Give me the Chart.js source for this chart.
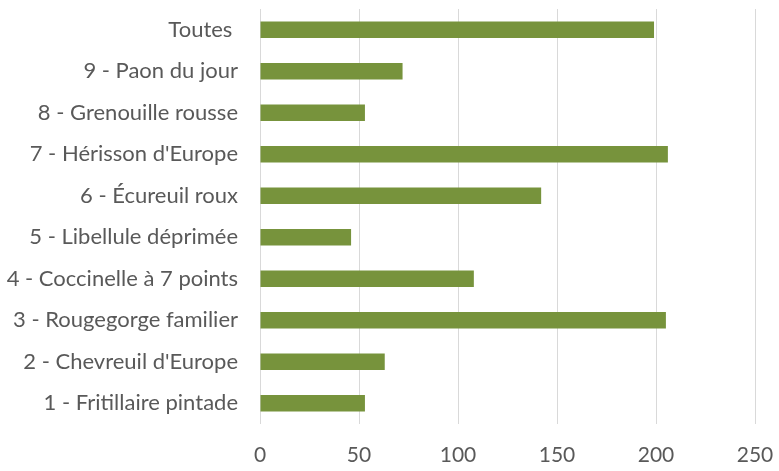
<!DOCTYPE html>
<html>
<head>
<meta charset="utf-8">
<script src="https://cdn.jsdelivr.net/npm/chart.js@4"></script>
<style>
html,body{margin:0;padding:0;background:#fff;}
#wrap{width:779px;height:471px;}
</style>
</head>
<body>
<div id="wrap"><canvas id="c" width="779" height="471"></canvas></div>
<script>
const categories = [
  "Toutes ",
  "9 - Paon du jour",
  "8 - Grenouille rousse",
  "7 - Hérisson d'Europe",
  "6 - Écureuil roux",
  "5 - Libellule déprimée",
  "4 - Coccinelle à 7 points",
  "3 - Rougegorge familier",
  "2 - Chevreuil d'Europe",
  "1 - Fritillaire pintade"
];
const values = [199, 72, 53, 206, 142, 46, 108, 205, 63, 53];
const xTicks = [0, 50, 100, 150, 200, 250];

const fontFamily = "Lato, 'Open Sans', sans-serif";
new Chart(document.getElementById('c'), {
  type: 'bar',
  data: {
    labels: categories,
    datasets: [{
      data: values,
      backgroundColor: '#77933C',
      borderWidth: 0,
      categoryPercentage: 1,
      barPercentage: 0.40
    }]
  },
  options: {
    indexAxis: 'y',
    responsive: false,
    animation: false,
    layout: { padding: { top: 9, right: 24, left: 0, bottom: 0 } },
    plugins: { legend: { display: false }, tooltip: { enabled: false } },
    scales: {
      x: {
        min: xTicks[0],
        max: xTicks[xTicks.length - 1],
        afterBuildTicks: s => { s.ticks = xTicks.map(v => ({ value: v })); },
        afterFit: s => { s.height = 47; s.paddingLeft = 0; s.paddingRight = 0; },
        grid: { color: '#d9d9d9', lineWidth: 1, drawTicks: false },
        border: { display: false },
        ticks: { color: '#595959', font: { family: fontFamily, size: 21 }, padding: 19 }
      },
      y: {
        afterFit: s => { s.width = 260; s.paddingTop = 0; s.paddingBottom = 0; },
        grid: { display: false, drawTicks: false },
        border: { display: false },
        ticks: { color: '#595959', font: { family: fontFamily, size: 22 }, padding: 22, autoSkip: false }
      }
    }
  }
});
</script>
</body>
</html>
